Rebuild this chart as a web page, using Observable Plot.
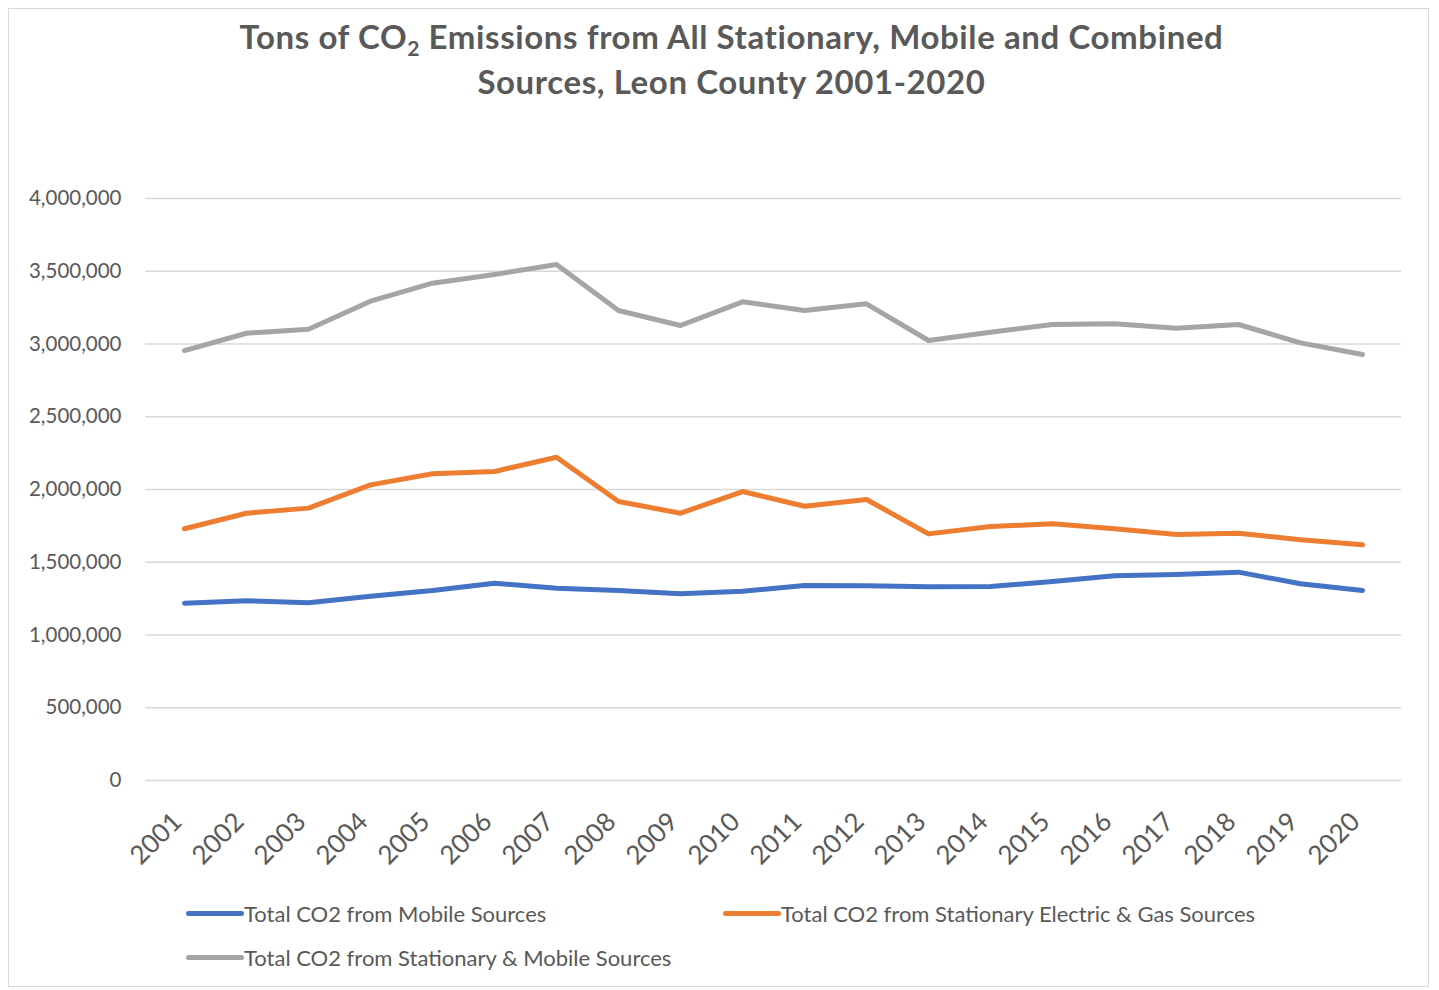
<!DOCTYPE html>
<html>
<head>
<meta charset="utf-8">
<script src="https://cdn.jsdelivr.net/npm/d3@7"></script>
<script src="https://cdn.jsdelivr.net/npm/@observablehq/plot@0.6"></script>
<style>
  body { margin: 0; background: #fff; }
  #wrap { position: relative; width: 1439px; height: 990px; font-family: Lato, "Open Sans", sans-serif; color: #595959; }
  #frame { position: absolute; left: 8px; top: 8px; width: 1421px; height: 979px; border: 1px solid #d9d9d9; box-sizing: border-box; pointer-events: none; }
  #title { height: 110px; box-sizing: border-box; padding-top: 14px; padding-left: 24px; text-align: center; font-weight: bold; font-size: 33px; letter-spacing: 0.6px; line-height: 45px; color: #595959; }
  #title sub { font-size: 21px; vertical-align: -7px; line-height: 0; }
  #chart svg { display: block; }
  #legend { position: relative; height: 100px; font-size: 22px; color: #595959; }
  .item { position: absolute; display: flex; align-items: center; height: 30px; }
  .sw { width: 58px; height: 5px; border-radius: 3px; margin-right: 0px; }
</style>
</head>
<body>
<div id="wrap">
  <div id="frame"></div>
  <div id="title">Tons of CO<sub>2</sub> Emissions from All Stationary, Mobile and Combined<br>Sources, Leon County 2001-2020</div>
  <div id="chart"></div>
  <div id="legend"></div>
</div>
<script>
const years = ["2001","2002","2003","2004","2005","2006","2007","2008","2009","2010","2011","2012","2013","2014","2015","2016","2017","2018","2019","2020"];
const mobile = [1219000,1235000,1221000,1267000,1306000,1356000,1322000,1306000,1283000,1301000,1340000,1338000,1331000,1333000,1368000,1407000,1416000,1432000,1352000,1306000];
const stationary = [1730000,1837000,1872000,2032000,2108000,2124000,2222000,1918000,1837000,1986000,1885000,1931000,1695000,1746000,1764000,1730000,1691000,1700000,1654000,1620000];
const combined = [2955000,3074000,3102000,3294000,3418000,3478000,3546000,3230000,3127000,3290000,3230000,3276000,3024000,3081000,3134000,3139000,3109000,3134000,3008000,2928000];
const seriesNames = ["Total CO2 from Mobile Sources","Total CO2 from Stationary Electric & Gas Sources","Total CO2 from Stationary & Mobile Sources"];
const seriesColors = ["#4472C4","#ED7D31","#A5A5A5"];
const yTicks = [0,500000,1000000,1500000,2000000,2500000,3000000,3500000,4000000];

const seriesValues = [mobile, stationary, combined];
const data = [];
seriesNames.forEach((name, i) => {
  years.forEach((yr, j) => data.push({series: name, year: yr, value: seriesValues[i][j]}));
});

const chart = Plot.plot({
  width: 1439,
  height: 780,
  marginTop: 88,
  marginBottom: 110,
  marginLeft: 145,
  marginRight: 38,
  style: {fontFamily: "Lato, 'Open Sans', sans-serif", color: "#595959", background: "transparent"},
  x: {type: "point", domain: years, padding: 0.5, label: null},
  y: {domain: [0, 4000000], label: null},
  color: {domain: seriesNames, range: seriesColors},
  marks: [
    Plot.ruleY(yTicks, {stroke: "#d9d9d9", strokeWidth: 1.5}),
    Plot.axisY({ticks: yTicks, tickSize: 0, tickPadding: 24, tickFormat: d3.format(","), fontSize: 20.5, label: null}),
    Plot.axisX({tickRotate: -45, tickSize: 0, tickPadding: 37, fontSize: 26, label: null, dx: -7}),
    Plot.line(data, {x: "year", y: "value", z: "series", stroke: "series", strokeWidth: 5, strokeLinecap: "round", strokeLinejoin: "round"})
  ]
});
document.getElementById("chart").appendChild(chart);

const legend = document.getElementById("legend");
const pos = [[186, 8], [723, 8], [186, 52]];
seriesNames.forEach((name, i) => {
  const it = document.createElement("div");
  it.className = "item";
  it.style.left = pos[i][0] + "px";
  it.style.top = pos[i][1] + "px";
  it.innerHTML = `<span class="sw" style="background:${seriesColors[i]}"></span><span></span>`;
  it.lastChild.textContent = name;
  legend.appendChild(it);
});
</script>
</body>
</html>
